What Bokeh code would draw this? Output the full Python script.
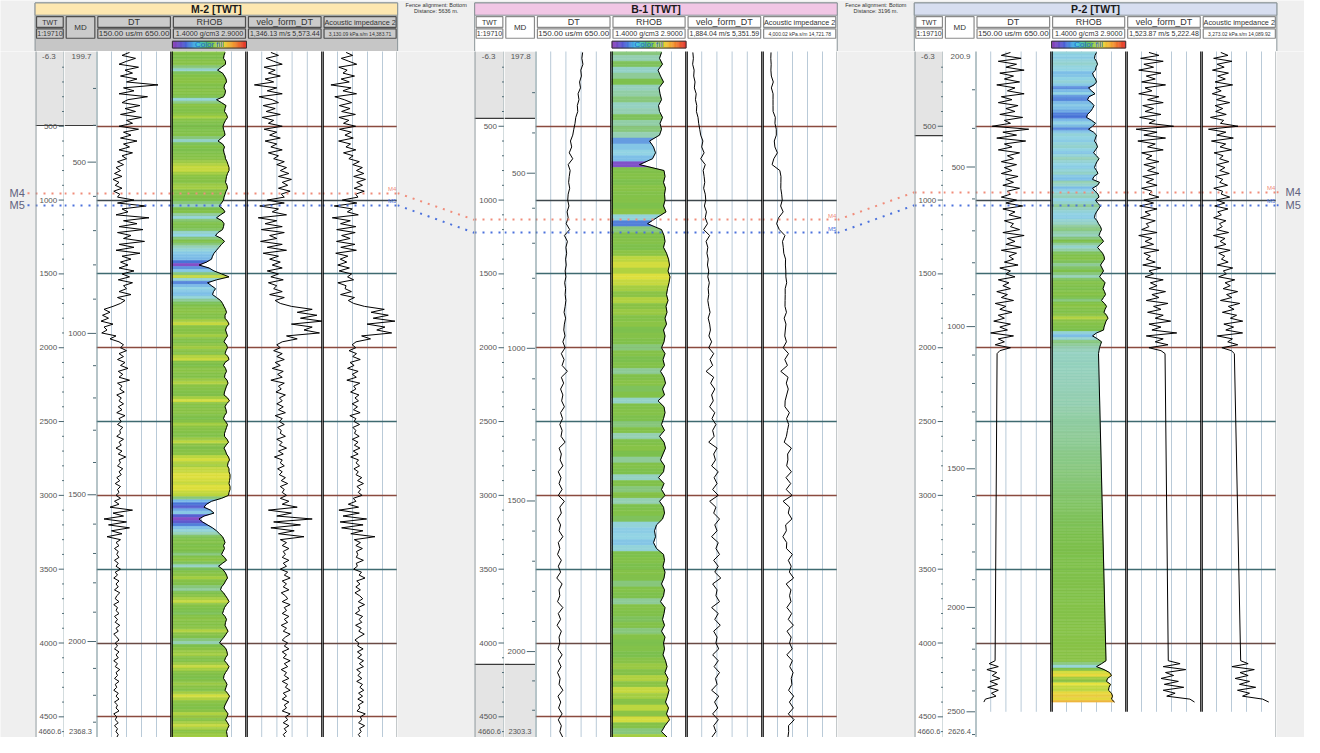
import numpy as np
from bokeh.plotting import figure
from bokeh.layouts import column, row
from bokeh.models import Range1d, ColumnDataSource
from bokeh.transform import linear_cmap
from bokeh.core.properties import value
from bokeh.embed import file_html
from bokeh.resources import INLINE

FONT = value("Liberation Sans")

# ------------------------------------------------------------------ data
wells = ["M-2", "B-1", "P-2"]

m2_twt = list(range(0, 4660, 20))
m2_dt = [370, 320, 410, 350, 300, 430, 340, 390, 310, 420,
         350, 560, 330, 400, 300, 490, 360, 320, 440, 340,
         410, 310, 450, 350, 390, 300, 430, 330, 380, 310,
         420, 330, 370, 300, 390, 320, 350, 290, 330, 280,
         310, 270, 320, 260, 300, 275, 320, 265, 305, 290,
         400, 290, 480, 320, 360, 280, 500, 330, 420, 300,
         460, 290, 380, 330, 470, 300, 400, 280, 440, 320,
         380, 310, 360, 300, 400, 320, 370, 295, 390, 330,
         350, 300, 380, 290, 340, 310, 260, 200, 240, 190,
         230, 180, 260, 200, 220, 185, 280, 240, 300, 330,
         310, 350, 300, 330, 290, 340, 310, 360, 295, 325,
         300, 370, 290, 320, 305, 335, 285, 315, 300, 330,
         295, 320, 285, 340, 300, 315, 290, 325, 305, 310,
         285, 330, 300, 315, 280, 320, 295, 345, 300, 310,
         290, 325, 300, 315, 285, 305, 275, 310, 290, 300,
         280, 310, 270, 300, 240, 390, 260, 330, 200, 350,
         230, 370, 250, 320, 220, 310, 280, 300, 270, 295,
         285, 300, 270, 295, 280, 310, 275, 290, 265, 300,
         280, 295, 270, 305, 285, 275, 300, 265, 290, 280,
         300, 270, 290, 275, 305, 280, 295, 265, 285, 300,
         275, 290, 270, 300, 280, 295, 265, 290, 275, 305,
         280, 290, 270, 300, 275, 285, 265, 295, 280, 300,
         270, 290, 280, 300, 265, 285, 275, 295, 270, 290,
         280, 295, 285]
m2_rhob = [2.47, 2.45, 2.44, 2.48, 2.48, 2.40, 2.32, 2.42, 2.46, 2.49,
           2.50, 2.46, 2.45, 2.48, 2.47, 2.44, 2.30, 2.40, 2.49, 2.47,
           2.46, 2.50, 2.52, 2.48, 2.45, 2.43, 2.44, 2.46, 2.47, 2.40,
           2.33, 2.42, 2.46, 2.44, 2.45, 2.47, 2.48, 2.51, 2.53, 2.55,
           2.55, 2.52, 2.50, 2.49, 2.48, 2.51, 2.52, 2.49, 2.47, 2.45,
           2.44, 2.40, 2.35, 2.43, 2.47, 2.38, 2.30, 2.41, 2.45, 2.44,
           2.42, 2.33, 2.28, 2.40, 2.46, 2.40, 2.35, 2.30, 2.25, 2.22,
           2.20, 2.10, 1.95, 2.15, 2.25, 2.40, 2.55, 2.30, 2.12, 2.20,
           2.28, 2.24, 2.22, 2.30, 2.38, 2.42, 2.45, 2.48, 2.50, 2.47,
           2.47, 2.52, 2.55, 2.50, 2.48, 2.50, 2.52, 2.48, 2.45, 2.50,
           2.52, 2.49, 2.47, 2.53, 2.55, 2.47, 2.44, 2.48, 2.50, 2.47,
           2.46, 2.51, 2.53, 2.50, 2.48, 2.46, 2.45, 2.52, 2.56, 2.50,
           2.47, 2.49, 2.50, 2.46, 2.44, 2.48, 2.52, 2.50, 2.48, 2.46,
           2.46, 2.51, 2.54, 2.49, 2.45, 2.48, 2.50, 2.54, 2.56, 2.53,
           2.52, 2.55, 2.55, 2.57, 2.57, 2.56, 2.55, 2.57, 2.57, 2.55,
           2.54, 2.40, 2.20, 2.10, 2.05, 2.18, 2.25, 2.05, 1.95, 2.02,
           2.12, 2.22, 2.30, 2.36, 2.42, 2.45, 2.47, 2.44, 2.46, 2.43,
           2.40, 2.46, 2.50, 2.42, 2.34, 2.42, 2.47, 2.50, 2.52, 2.48,
           2.45, 2.40, 2.38, 2.44, 2.48, 2.52, 2.55, 2.50, 2.46, 2.44,
           2.42, 2.47, 2.50, 2.48, 2.47, 2.50, 2.53, 2.49, 2.45, 2.40,
           2.36, 2.44, 2.49, 2.51, 2.52, 2.48, 2.46, 2.51, 2.55, 2.52,
           2.48, 2.45, 2.44, 2.48, 2.51, 2.49, 2.47, 2.52, 2.56, 2.53,
           2.50, 2.47, 2.45, 2.49, 2.53, 2.51, 2.48, 2.52, 2.55, 2.52,
           2.50, 2.51, 2.52]

b1_twt = list(range(0, 4680, 40))
b1_dt = [460, 455, 462, 448, 452, 440, 446, 430, 436, 425, 428, 415, 410,
         402, 395, 380, 388, 372, 395, 365, 378, 372, 368, 375, 365,
         362, 370, 358, 365, 352, 375, 340, 360, 350, 355,
         348, 352, 345, 350, 342, 348, 345, 350,
         345, 338, 348, 340, 336, 344,
         330, 345, 320, 338, 325, 360, 320, 335, 315, 330, 322, 340, 315, 328, 310, 325, 318, 345, 305, 320, 312, 330, 300, 318,
         305, 325, 300, 340, 310, 320,
         295, 315, 305, 330, 300,
         310, 295, 320, 300, 315, 290, 325, 305, 310, 295, 330, 300, 315, 292, 320, 305, 310, 298, 325, 300,
         318, 295, 312, 305, 330, 298, 316, 302, 325, 300, 320, 310, 330]
b1_rhob = [2.40, 2.36, 2.42, 2.33, 2.38, 2.44, 2.35, 2.37, 2.40, 2.34, 2.36, 2.42, 2.37,
           2.40, 2.36, 2.16, 2.24, 2.28, 2.22, 1.96, 2.45, 2.47, 2.44, 2.48, 2.46,
           2.47, 2.44, 2.49, 2.30, 2.12, 2.40, 2.45, 2.47, 2.44, 2.50,
           2.54, 2.56, 2.53, 2.57, 2.55, 2.52, 2.50, 2.53,
           2.49, 2.51, 2.47, 2.50, 2.44, 2.47,
           2.45, 2.40, 2.47, 2.43, 2.46, 2.38, 2.45, 2.48, 2.42, 2.46, 2.33, 2.45, 2.47, 2.44, 2.40, 2.46, 2.36, 2.45, 2.48, 2.43, 2.38, 2.46, 2.44, 2.34,
           2.45, 2.40, 2.47, 2.36, 2.44, 2.46,
           2.42, 2.30, 2.26, 2.28, 2.24,
           2.30, 2.44, 2.46, 2.43, 2.47, 2.45, 2.40, 2.46, 2.44, 2.38, 2.47, 2.45, 2.42, 2.46, 2.40, 2.47, 2.44, 2.46, 2.43, 2.48,
           2.51, 2.47, 2.53, 2.50, 2.55, 2.52, 2.48, 2.54, 2.50, 2.56, 2.47, 2.40, 2.52]

p2_twt = list(range(0, 2060, 20)) + list(range(4120, 4420, 20))
p2_dt = [380, 320, 450, 300, 420, 350, 470, 310, 400, 340,
         440, 290, 410, 360, 470, 320, 390, 300, 430, 350,
         410, 310, 460, 340, 380, 260, 500, 330, 420, 290,
         480, 340, 390, 300, 440, 360, 400, 320, 420, 340,
         390, 320, 430, 350, 400, 330, 440, 360, 380, 320,
         420, 350, 460, 330, 410, 370, 450, 340, 400, 380,
         440, 330, 470, 360, 410, 350, 450, 320, 420, 370,
         400, 340, 430, 310, 380, 350, 410, 300, 370, 330,
         380, 290, 360, 320, 400, 280, 350, 310, 390, 300,
         340, 270, 380, 310, 360, 250, 400, 300, 340, 280,
         380, 310, 292,
         279, 240, 300, 225, 290, 260, 310, 245, 295, 230, 300, 255, 285, 215, 205]
p2_rhob = [2.30, 2.27, 2.26, 2.30, 2.32, 2.29, 2.28, 2.22, 2.24, 2.28,
           2.30, 2.25, 2.14, 2.20, 2.27, 2.15, 2.12, 2.20, 2.25, 2.22,
           2.18, 2.12, 2.10, 2.20, 2.28, 2.22, 2.14, 2.24, 2.30, 2.28,
           2.26, 2.30, 2.32, 2.28, 2.24, 2.30, 2.35, 2.31, 2.28, 2.26,
           2.30, 2.33, 2.25, 2.22, 2.36, 2.32, 2.22, 2.27, 2.33, 2.35,
           2.28, 2.32, 2.38, 2.34, 2.30, 2.27, 2.26, 2.31, 2.34, 2.38,
           2.40, 2.37, 2.35, 2.40, 2.44, 2.38, 2.32, 2.37, 2.42, 2.45,
           2.46, 2.42, 2.38, 2.41, 2.44, 2.40, 2.36, 2.42, 2.47, 2.45,
           2.43, 2.46, 2.48, 2.44, 2.40, 2.46, 2.50, 2.47, 2.45, 2.50,
           2.53, 2.49, 2.47, 2.45, 2.44, 2.30, 2.22, 2.32, 2.40, 2.38,
           2.36, 2.35, 2.34,
           2.49, 2.40, 2.30, 2.45, 2.56, 2.60, 2.52, 2.50, 2.58, 2.55, 2.54, 2.60, 2.62, 2.60, 2.66]

dt_scale = (150.0, 650.0)
rhob_scale = (1.4, 2.9)
velo_scales = [(1346.13, 5573.44), (1884.04, 5351.59), (1523.87, 5222.48)]
ai_scales = [(3130.09, 14383.71), (4000.02, 14721.78), (3273.02, 14089.92)]
dt_label = "150.00 us/m 650.00"
rhob_label = "1.4000 g/cm3 2.9000"
velo_labels = ["1,346.13 m/s 5,573.44", "1,884.04 m/s 5,351.59", "1,523.87 m/s 5,222.48"]
ai_labels = ["3,130.09 kPa.s/m 14,383.71", "4,000.02 kPa.s/m 14,721.78", "3,273.02 kPa.s/m 14,089.92"]
fence_labels = [["Fence alignment: Bottom", "Distance: 5636 m."],
                ["Fence alignment: Bottom", "Distance: 3196 m."]]

m4_twt = [953, 1134, 947]
m5_twt = [1035, 1222, 1035]

# time-depth tables (MD in m vs TWT in ms)
td_md = [[199.7, 500, 1000, 1500, 2000, 2368.3],
         [197.8, 500, 1000, 1500, 2000, 2303.3],
         [200.9, 500, 1000, 1500, 2000, 2500, 2626.4]]
td_twt = [[-6.3, 743, 1903, 2996, 3990, 4660.6],
          [-6.3, 818, 2004, 3038, 4058, 4660.6],
          [-6.3, 776, 1857, 2820, 3759, 4466, 4660.6]]
md_top_labels = ["199.7", "197.8", "200.9"]
md_bot_labels = ["2368.3", "2303.3", "2626.4"]
gray_twt_col = [[(-6.3, 495)], [(-6.3, 446), (4145, 4700)], [(-6.3, 564)]]
gray_md_col = [[(-6.3, 495)], [(-6.3, 446), (4145, 4700)], []]
track_bottom = [4700, 4700, 4466]

twt_major = [500, 1000, 1500, 2000, 2500, 3000, 3500, 4000, 4500]

# ------------------------------------------------------------------ layout / style
SX = 1304 / 1320
W_TOTAL = 1304
HEADER_H = 51
LOG_H = 737 - HEADER_H
TWT_TOP, TWT_BOT = -6.3, 4640.0
YR = Range1d(TWT_BOT, TWT_TOP)

PAGE_BG = "#efefef"
VGRID = "#b9cad8"
BORDER = "#6f8a92"
M4C = "#f08c7a"
M5C = "#4c72dc"
hgrid_col = {500: "#8a4a3e", 1000: "#3e474c", 1500: "#3e6a70", 2000: "#8a4a3e", 2500: "#3e6a70",
             3000: "#8a4a3e", 3500: "#3e6a70", 4000: "#6a4a44", 4500: "#8a4a3e"}

panel_x = [35, 480, 925]
col_off = [0, 30, 62, 138.5, 214.5, 291, 367]
edges = [0]
for x0 in panel_x:
    edges += [x0 + c for c in col_off]
edges.append(1320)
pe = [int(round(e * SX)) for e in edges]
pe[-1] = W_TOTAL
widths = [b - a for a, b in zip(pe[:-1], pe[1:])]


def hex2rgb(h):
    return tuple(int(h[k:k + 2], 16) for k in (1, 3, 5))


def ramp(stops, n=256):
    out = []
    for k in range(n):
        t = k / (n - 1)
        for (p0, c0), (p1, c1) in zip(stops[:-1], stops[1:]):
            if p0 <= t <= p1:
                f = (t - p0) / (p1 - p0) if p1 > p0 else 0
                a, b = hex2rgb(c0), hex2rgb(c1)
                out.append("#%02x%02x%02x" % tuple(int(round(a[j] + (b[j] - a[j]) * f)) for j in range(3)))
                break
    return out


RH_LO, RH_HI = 1.90, 2.70
rhob_stops = [(1.90, "#a64cc4"), (2.00, "#6656cc"), (2.10, "#4a72d6"), (2.20, "#78b8e8"),
              (2.28, "#92d4e4"), (2.36, "#96d0b6"), (2.43, "#7cc04e"), (2.50, "#8cc446"),
              (2.54, "#bcd640"), (2.58, "#e6e23e"), (2.70, "#f2a440")]
RH_PAL = ramp([((v - RH_LO) / (RH_HI - RH_LO), c) for v, c in rhob_stops])
RAINBOW = ramp([(0, "#8e3fb8"), (0.17, "#4b5fd6"), (0.33, "#3ec3e6"), (0.5, "#56c05a"),
                (0.67, "#e8e53c"), (0.83, "#f39a2e"), (1.0, "#e5322a")], 60)


def base(w, xr, bg="white"):
    p = figure(width=w, height=LOG_H, x_range=Range1d(*xr), y_range=YR,
               output_backend="svg", toolbar_location=None, min_border=0,
               x_axis_location=None, y_axis_location=None,
               background_fill_color=bg, border_fill_color=bg, outline_line_color=None)
    p.grid.visible = False
    return p


def vedge(p, x, bottom, color, width):
    p.segment(x0=[x], x1=[x], y0=[TWT_TOP - 30], y1=[bottom], line_color=color, line_width=width)


def track_grid(p, lo, hi, bottom):
    gx = [lo + (hi - lo) * k / 5 for k in range(1, 5)]
    p.segment(x0=gx, x1=gx, y0=[TWT_TOP - 30] * 4, y1=[bottom] * 4, line_color=VGRID, line_width=1)
    for t in twt_major:
        if t < bottom:
            p.hspan(y=[t], line_color=hgrid_col[t], line_width=1.4)


def markers(p, i):
    p.hspan(y=[m4_twt[i]], line_color=M4C, line_width=2, line_dash="2 6")
    p.hspan(y=[m5_twt[i]], line_color=M5C, line_width=2, line_dash="2 6")


def fill_bands(twt, vals, lo):
    step = min(b - a for a, b in zip(twt[:-1], twt[1:]))
    xs, ys, vs = [], [], []

    def add(t0, t1, v0, v1, c):
        xs.append([lo, v0, v1, lo])
        ys.append([t0, t0, t1, t1])
        vs.append(c)

    add(TWT_TOP, twt[0], vals[0], vals[0], vals[0])
    for k in range(len(twt) - 1):
        t0, t1, v0, v1 = twt[k], twt[k + 1], vals[k], vals[k + 1]
        if t1 - t0 > 1.5 * step:
            # linearly joined gap: render the colour fill as a gradient under the straight segment
            m = int(round((t1 - t0) / 10))
            for j in range(m):
                a, b = j / m, (j + 1) / m
                va, vb = v0 + (v1 - v0) * a, v0 + (v1 - v0) * b
                add(t0 + (t1 - t0) * a, t0 + (t1 - t0) * b, va, vb, (va + vb) / 2)
        else:
            tm, vm = (t0 + t1) / 2, (v0 + v1) / 2
            add(t0, tm, v0, vm, v0)
            add(tm, t1, vm, v1, v1)
    return dict(xs=xs, ys=ys, v=vs)


well_data = [(m2_twt, m2_dt, m2_rhob), (b1_twt, b1_dt, b1_rhob), (p2_twt, p2_dt, p2_rhob)]

figs = []
# left margin with marker names
lm = base(widths[0], (0, 35), PAGE_BG)
lm.segment(x0=[27, 27], x1=[35, 35], y0=[m4_twt[0], m5_twt[0]], y1=[m4_twt[0], m5_twt[0]],
           line_color=[M4C, M5C], line_width=2, line_dash="2 6")
lm.text(x=[9, 9], y=[m4_twt[0], m5_twt[0]], text=["M4", "M5"], text_font=FONT, text_font_size="11px",
        text_color="#62627e", text_align="left", text_baseline="middle")
figs.append(lm)

fi = 1
for i in range(3):
    twt, dt, rhob = well_data[i]
    velo = [1e6 / d for d in dt]             # velo_form_DT = 1 / DT
    ai = [v * r for v, r in zip(velo, rhob)]  # acoustic impedance = velocity * density
    src = ColumnDataSource(dict(twt=twt, dt=dt, rhob=rhob, velo=velo, ai=ai))
    bottom = track_bottom[i]

    # ---- TWT column
    p = base(widths[fi], (0, 30)); fi += 1
    for a, b in gray_twt_col[i]:
        p.quad(left=0, right=30, top=a, bottom=b, fill_color="#e4e4e4", line_color=None)
        p.segment(x0=[0], x1=[30], y0=[b], y1=[b], line_color="#3a3a3a", line_width=1.2)
        if a > 0:
            p.segment(x0=[0], x1=[30], y0=[a], y1=[a], line_color="#3a3a3a", line_width=1.2)
    minor = [t for t in range(100, 4700, 100) if t % 500]
    p.segment(x0=[27.5] * len(minor), x1=[30] * len(minor), y0=minor, y1=minor, line_color="#4a6670", line_width=1)
    p.segment(x0=[24] * len(twt_major), x1=[30] * len(twt_major), y0=twt_major, y1=twt_major,
              line_color="#4a6670", line_width=1)
    p.text(x=[22.5] * len(twt_major), y=twt_major, text=[str(t) for t in twt_major], text_font=FONT,
           text_font_size="8px", text_color="#555555", text_align="right", text_baseline="middle")
    p.text(x=[21], y=[12], text=["-6.3"], text_font=FONT, text_font_size="8px", text_color="#555555",
           text_align="right", text_baseline="top")
    p.text(x=[15], y=[4618], text=["4660.6"], text_font=FONT, text_font_size="7.5px", text_color="#555555",
           text_align="center", text_baseline="bottom")
    markers(p, i)
    vedge(p, 0, 4800, "#8a9498", 2)
    vedge(p, 30, 4800, BORDER, 1.6)
    figs.append(p)

    # ---- MD column
    p = base(widths[fi], (0, 32)); fi += 1
    for a, b in gray_md_col[i]:
        p.quad(left=0, right=32, top=a, bottom=b, fill_color="#e4e4e4", line_color=None)
        p.segment(x0=[0], x1=[32], y0=[b], y1=[b], line_color="#3a3a3a", line_width=1.2)
        if a > 0:
            p.segment(x0=[0], x1=[32], y0=[a], y1=[a], line_color="#3a3a3a", line_width=1.2)
    md_minor = [m for m in range(300, 2700, 100) if m % 500 and m < td_md[i][-1]]
    md_major = [m for m in range(500, 2700, 500) if m < td_md[i][-1]]
    tmin = list(np.interp(md_minor, td_md[i], td_twt[i]))
    tmaj = list(np.interp(md_major, td_md[i], td_twt[i]))
    p.segment(x0=[28.5] * len(tmin), x1=[32] * len(tmin), y0=tmin, y1=tmin, line_color="#4a6670", line_width=1)
    p.segment(x0=[23] * len(tmaj), x1=[32] * len(tmaj), y0=tmaj, y1=tmaj, line_color="#4a6670", line_width=1)
    p.text(x=[21.5] * len(tmaj), y=tmaj, text=[str(m) for m in md_major], text_font=FONT,
           text_font_size="8px", text_color="#555555", text_align="right", text_baseline="middle")
    p.text(x=[27], y=[12], text=[md_top_labels[i]], text_font=FONT, text_font_size="8px", text_color="#555555",
           text_align="right", text_baseline="top")
    p.text(x=[16], y=[4618], text=[md_bot_labels[i]], text_font=FONT, text_font_size="7.5px",
           text_color="#555555", text_align="center", text_baseline="bottom")
    markers(p, i)
    figs.append(p)

    # ---- DT track
    lo, hi = dt_scale
    p = base(widths[fi], (lo, hi)); fi += 1
    track_grid(p, lo, hi, bottom)
    p.line(x="dt", y="twt", source=src, line_color="black", line_width=1)
    markers(p, i)
    vedge(p, lo, 4800, BORDER, 2)
    vedge(p, hi, bottom, "black", 2.6)
    figs.append(p)

    # ---- RHOB track with colour fill
    lo, hi = rhob_scale
    p = base(widths[fi], (lo, hi)); fi += 1
    track_grid(p, lo, hi, bottom)
    bands = ColumnDataSource(fill_bands(twt, rhob, lo))
    cmap = linear_cmap("v", RH_PAL, RH_LO, RH_HI)
    p.patches(xs="xs", ys="ys", source=bands, fill_color=cmap, line_color=cmap, line_width=0.6)
    p.line(x="rhob", y="twt", source=src, line_color="black", line_width=1)
    markers(p, i)
    vedge(p, lo, bottom, "black", 2.6)
    vedge(p, hi, bottom, "black", 2.6)
    figs.append(p)

    # ---- velo_form_DT track
    lo, hi = velo_scales[i]
    p = base(widths[fi], (lo, hi)); fi += 1
    track_grid(p, lo, hi, bottom)
    p.line(x="velo", y="twt", source=src, line_color="black", line_width=1)
    markers(p, i)
    vedge(p, lo, bottom, "black", 2.6)
    vedge(p, hi, bottom, "black", 2.6)
    figs.append(p)

    # ---- Acoustic impedance track
    lo, hi = ai_scales[i]
    p = base(widths[fi], (lo, hi)); fi += 1
    track_grid(p, lo, hi, bottom)
    p.line(x="ai", y="twt", source=src, line_color="black", line_width=1)
    markers(p, i)
    p.text(x=[hi - 0.015 * (hi - lo)] * 2, y=[m4_twt[i] - 6, m5_twt[i] - 6], text=["M4", "M5"],
           text_color=[M4C, M5C], text_font=FONT, text_font_size="6px", text_align="right",
           text_baseline="bottom")
    vedge(p, lo, bottom, "black", 2.6)
    vedge(p, hi, 4800, "#8a9498", 2)
    figs.append(p)

    # ---- gap (fence) or right margin
    if i < 2:
        g = base(widths[fi], (0, 1), PAGE_BG); fi += 1
        g.segment(x0=[0], x1=[1], y0=[m4_twt[i]], y1=[m4_twt[i + 1]], line_color=M4C, line_width=2,
                  line_dash="2 6")
        g.segment(x0=[0], x1=[1], y0=[m5_twt[i]], y1=[m5_twt[i + 1]], line_color=M5C, line_width=2,
                  line_dash="2 6")
        figs.append(g)
    else:
        g = base(widths[fi], (1292, 1320), PAGE_BG); fi += 1
        g.segment(x0=[1292, 1292], x1=[1298, 1298], y0=[m4_twt[i], m5_twt[i]], y1=[m4_twt[i], m5_twt[i]],
                  line_color=[M4C, M5C], line_width=2, line_dash="2 4")
        g.text(x=[1301, 1301], y=[m4_twt[i], m5_twt[i]], text=["M4", "M5"], text_font=FONT,
               text_font_size="11px", text_color="#62627e", text_align="left", text_baseline="middle")
        figs.append(g)

# ------------------------------------------------------------------ header
hdr = figure(width=W_TOTAL, height=HEADER_H, x_range=Range1d(0, 1320), y_range=Range1d(52, 0),
             output_backend="svg", toolbar_location=None, min_border=0,
             x_axis_location=None, y_axis_location=None,
             background_fill_color=PAGE_BG, border_fill_color=PAGE_BG, outline_line_color=None)
hdr.grid.visible = False

title_bg = ["#fde7b0", "#f1c6e5", "#d7def0"]
row_bg = ["#c6c6c6", "#ffffff", "#ffffff"]
box_fill = ["#cbcbcb", "#ffffff", "#ffffff"]
box_line = ["#4e4e4e", "#8a8a8a", "#8a8a8a"]
names = ["TWT", "MD", "DT", "RHOB", "velo_form_DT", "Acoustic impedance 2"]
name_sizes = ["7px", "8px", "9px", "9px", "9px", "7.3px"]

for i, x0 in enumerate(panel_x):
    cx = [x0 + c for c in col_off]
    hdr.quad(left=[x0], right=[x0 + 367], top=[2.5], bottom=[52], fill_color=row_bg[i], line_color="#8a9498")
    hdr.quad(left=[x0], right=[x0 + 367], top=[2.5], bottom=[15], fill_color=title_bg[i], line_color="#8a9498")
    hdr.text(x=[x0 + 183.5], y=[9], text=[f"{wells[i]} [TWT]"], text_font=FONT, text_font_size="10.5px",
             text_font_style="bold", text_align="center", text_baseline="middle", text_color="#1a1a1a")
    r1 = [0, 2, 3, 4, 5]
    hdr.quad(left=[cx[c] + 1.5 for c in r1], right=[cx[c + 1] - 1.5 for c in r1], top=16.5, bottom=27.5,
             fill_color=box_fill[i], line_color=box_line[i], line_width=1.2)
    hdr.quad(left=[cx[1] + 1.5], right=[cx[2] - 1.5], top=16.5, bottom=38.5,
             fill_color=box_fill[i], line_color=box_line[i], line_width=1.2)
    hdr.quad(left=[cx[c] + 1.5 for c in r1], right=[cx[c + 1] - 1.5 for c in r1], top=29, bottom=38.5,
             fill_color=box_fill[i], line_color=box_line[i], line_width=1.2)
    for c in range(6):
        yy = 27.5 if c == 1 else 22
        hdr.text(x=[(cx[c] + cx[c + 1]) / 2], y=[yy], text=[names[c]], text_font=FONT,
                 text_font_size=name_sizes[c], text_align="center", text_baseline="middle", text_color="#333333")
    scales = ["1:19710", dt_label, rhob_label, velo_labels[i], ai_labels[i]]
    ssz = ["7px", "8px", "7.2px", "7px", "5px"]
    for c, s, z in zip(r1, scales, ssz):
        hdr.text(x=[(cx[c] + cx[c + 1]) / 2], y=[34], text=[s], text_font=FONT, text_font_size=z,
                 text_align="center", text_baseline="middle", text_color="#333333")
    # colour fill legend bar
    l0, l1 = cx[3] + 0.5, cx[4] - 0.5
    n = len(RAINBOW)
    edges_c = [l0 + (l1 - l0) * k / n for k in range(n + 1)]
    hdr.quad(left=edges_c[:-1], right=edges_c[1:], top=41.5, bottom=48.5, fill_color=RAINBOW,
             line_color=RAINBOW, line_width=0.5)
    hdr.quad(left=[l0], right=[l1], top=[41.5], bottom=[48.5], fill_color=None, line_color="#333333",
             line_width=1)
    hdr.text(x=[(l0 + l1) / 2], y=[45.2], text=["Color fill"], text_font=FONT, text_font_size="8px",
             text_align="center", text_baseline="middle", text_color="#2a62cc")

for k, xm in enumerate([441, 886]):
    hdr.text(x=[xm, xm], y=[5, 10.5], text=fence_labels[k], text_font=FONT, text_font_size="5.5px",
             text_align="center", text_baseline="middle", text_color="#333333")

layout = column(hdr, row(*figs, spacing=0), spacing=0)
open("out.html", "w").write(file_html(layout, INLINE))
